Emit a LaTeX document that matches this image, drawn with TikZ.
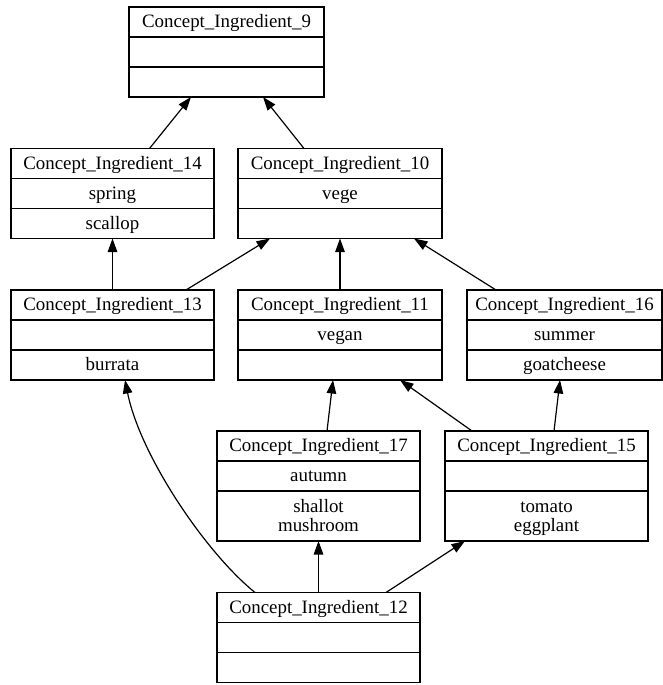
\documentclass[tikz,border=0pt]{standalone}
\usepackage{fontspec}
\setmainfont{Liberation Serif}
\usetikzlibrary{arrows.meta,calc}
\tikzset{
  box/.style={draw=black, line width=1.2pt, rectangle, inner sep=0pt, outer sep=0pt, fill=white},
  divider/.style={draw=black, line width=1.2pt},
  lbl/.style={inner sep=0pt, outer sep=0pt, text height=13pt, text depth=1.4pt, font=\fontsize{18.9}{19}\selectfont},
  edge/.style={draw=black, line width=1.2pt, -{Triangle[length=13.5pt,width=9.5pt]}}
}
\newcommand\cbox[8]{%
  \node[box, minimum width=#4, minimum height={60+#8}, anchor=north] (#1) at (#2,#3) {};
  \draw[divider] ([yshift=-30pt]#1.north west) -- ([yshift=-30pt]#1.north east);
  \draw[divider] ([yshift=-60pt]#1.north west) -- ([yshift=-60pt]#1.north east);
  \node[lbl] (#1t) at ([yshift=-15pt]#1.north) {#5};
  \node[lbl] (#1a) at ([yshift=-45pt]#1.north) {#6};
  \node[lbl] (#1b) at ([yshift={-60-#8/2}]#1.north) {#7};
}
\begin{document}
\begin{tikzpicture}[x=1pt,y=-1pt]
\useasboundingbox[fill=white] (0,0) rectangle (663,685);
\cbox{n9}{226.5}{7}{195}{Concept\_Ingredient\_9}{}{}{30}
\cbox{n14}{112.5}{148.5}{203}{Concept\_Ingredient\_14}{spring}{scallop}{30}
\cbox{n10}{340}{148.5}{204}{Concept\_Ingredient\_10}{vege}{}{30}
\cbox{n13}{112.5}{290}{203}{Concept\_Ingredient\_13}{}{burrata}{30}
\cbox{n11}{340}{290}{204}{Concept\_Ingredient\_11}{vegan}{}{30}
\cbox{n16}{564.5}{290}{195}{Concept\_Ingredient\_16}{summer}{goatcheese}{30}
\cbox{n17}{318.5}{431}{203}{Concept\_Ingredient\_17}{autumn}{}{50}
\cbox{n15}{546.5}{431}{203}{Concept\_Ingredient\_15}{}{}{50}
\cbox{n12}{318.5}{592.5}{203}{Concept\_Ingredient\_12}{}{}{30}
% two-line third rows
\node[lbl] (n17b1) at ([yshift=9.5pt]n17b) {shallot};
\node[lbl] (n17b2) at ([yshift=-9.5pt]n17b) {mushroom};
\node[lbl] (n15b1) at ([yshift=9.5pt]n15b) {tomato};
\node[lbl] (n15b2) at ([yshift=-9.5pt]n15b) {eggplant};
% edges
\draw[edge] ([xshift=37pt]n14.north) -- ([xshift=-35.5pt]n9.south);
\draw[edge] ([xshift=-36pt]n10.north) -- ([xshift=36.5pt]n9.south);
\draw[edge] (n13.north) -- (n14.south);
\draw[edge] ([xshift=73.5pt]n13.north) -- ([xshift=-70pt]n10.south);
\draw[edge] (n11.north) -- (n10.south);
\draw[edge] ([xshift=-68.5pt]n16.north) -- ([xshift=74pt]n10.south);
\draw[edge] ([xshift=8.5pt]n17.north) -- ([xshift=-7pt]n11.south);
\draw[edge] ([xshift=-74.5pt]n15.north) -- ([xshift=60pt]n11.south);
\draw[edge] ([xshift=7.5pt]n15.north) -- ([xshift=-4.5pt]n16.south);
\draw[edge] ([xshift=-63.5pt]n12.north) .. controls (205,552) and (140,455) .. ([xshift=12.5pt]n13.south);
\draw[edge] (n12.north) -- (n17.south);
\draw[edge] ([xshift=67.5pt]n12.north) -- ([xshift=-81.5pt]n15.south);
\end{tikzpicture}
\end{document}
